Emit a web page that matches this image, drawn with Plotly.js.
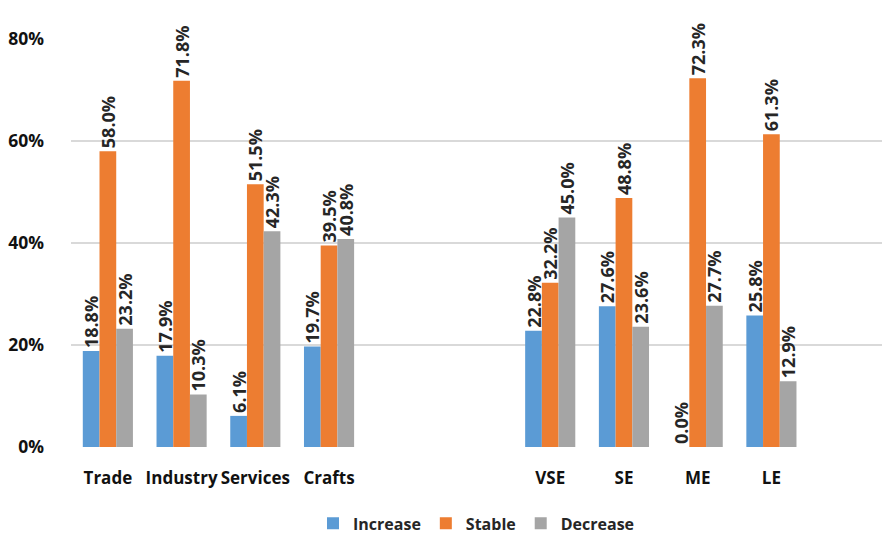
<!DOCTYPE html>
<html>
<head>
<meta charset="utf-8">
<script src="https://cdn.plot.ly/plotly-3.0.1.min.js"></script>
<style>html,body{margin:0;padding:0;background:#fff;}#chart{width:882px;height:542px;}</style>
</head>
<body>
<div id="chart"></div>
<script>
var categories = ["Trade", "Industry", "Services", "Crafts", " ", "  ", "VSE", "SE", "ME", "LE", "   "];
var increase = [0.188, 0.179, 0.061, 0.197, null, null, 0.228, 0.276, 0.000, 0.258, null];
var stable   = [0.580, 0.718, 0.515, 0.395, null, null, 0.322, 0.488, 0.723, 0.613, null];
var decrease = [0.232, 0.103, 0.423, 0.408, null, null, 0.450, 0.236, 0.277, 0.129, null];
var seriesNames = ["Increase", "Stable", "Decrease"];
var seriesColors = ["#5b9bd5", "#ed7d31", "#a5a5a5"];
var yTicks = [0, 0.2, 0.4, 0.6, 0.8];

var fontFam = "Open Sans, Liberation Sans, sans-serif";
var seriesData = [increase, stable, decrease];
var traces = seriesData.map(function (vals, i) {
  return {
    type: "bar",
    name: seriesNames[i],
    x: categories,
    y: vals,
    marker: {color: seriesColors[i]},
    texttemplate: "%{y:.1%}",
    textposition: "outside",
    textangle: -90,
    constraintext: "none",
    cliponaxis: false,
    textfont: {family: fontFam, size: 18, color: "#262626", weight: "bold"}
  };
});

var layout = {
  width: 882, height: 542,
  margin: {l: 71, r: 0, t: 39, b: 95},
  paper_bgcolor: "#fff", plot_bgcolor: "#fff",
  barmode: "group",
  bargap: 0.32, bargroupgap: 0,
  showlegend: true,
  legend: {orientation: "h", x: 0.5, xanchor: "center", y: -0.229, yanchor: "bottom",
           font: {family: fontFam, size: 16, color: "#262626", weight: "bold"},
           itemwidth: 30, traceorder: "normal"},
  xaxis: {type: "category", categoryorder: "array", categoryarray: categories,
          showgrid: false, zeroline: false, showline: false, ticks: "",
          tickangle: 0, automargin: false,
          ticklabelstandoff: 19,
          tickfont: {family: fontFam, size: 17, color: "#111", weight: "bold"}},
  yaxis: {range: [0, 0.8], tickvals: yTicks, tickformat: ".0%",
          showgrid: true, gridcolor: "#d9d9d9", gridwidth: 1.5,
          zeroline: false, showline: false, ticks: "", automargin: false,
          ticklabelstandoff: 26,
          tickfont: {family: fontFam, size: 17.5, color: "#111", weight: "bold"}}
};

Plotly.newPlot("chart", traces, layout, {displayModeBar: false, staticPlot: true});
</script>
</body>
</html>
